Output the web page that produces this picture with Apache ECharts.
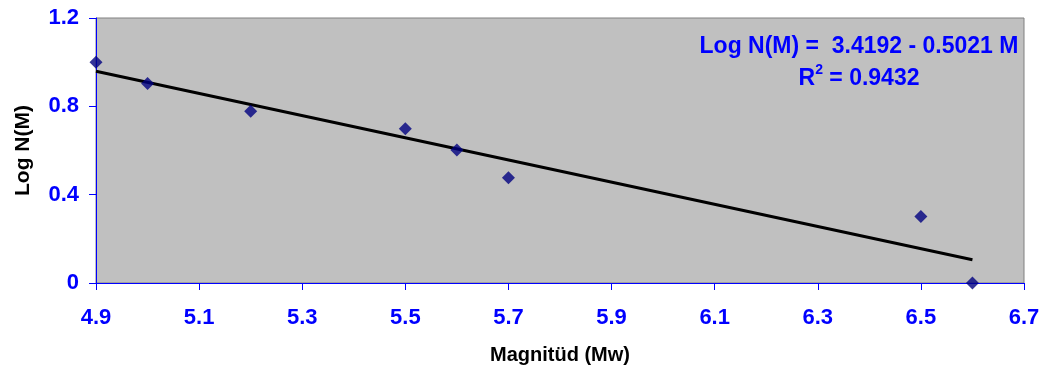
<!DOCTYPE html>
<html>
<head>
<meta charset="utf-8">
<script src="https://cdn.jsdelivr.net/npm/echarts@6/dist/echarts.min.js"></script>
<style>
html,body{margin:0;padding:0;background:#fff;}
#chart{width:1046px;height:376px;}
</style>
</head>
<body>
<div id="chart"></div>
<script>
// Observed data: magnitude (Mw) vs Log N(M)
const magnitudes = [4.9, 5.0, 5.2, 5.5, 5.6, 5.7, 6.5, 6.6];
const logN = [1.0, 0.903, 0.778, 0.699, 0.602, 0.477, 0.301, 0.0];
// Trend line endpoints as drawn
const trendX = [4.9, 6.6];
const trendY = [0.959, 0.105];
// Tick labels
const xTicks = [4.9, 5.1, 5.3, 5.5, 5.7, 5.9, 6.1, 6.3, 6.5, 6.7];
const yTicks = [0, 0.4, 0.8, 1.2];
const equationText = 'Log N(M) =  3.4192 - 0.5021 M';
const r2Value = '0.9432';

const FONT = '"Liberation Sans", Arial, sans-serif';
const BLUE = '#0000FF';

const chart = echarts.init(document.getElementById('chart'), null, {renderer: 'canvas'});
chart.setOption({
  animation: false,
  backgroundColor: '#ffffff',
  grid: {
    left: 96, right: 22, top: 18, bottom: 93,
    show: true, backgroundColor: '#C0C0C0', borderColor: '#808080', borderWidth: 1
  },
  title: {
    left: 854, top: 26, textAlign: 'center',
    text: '{a|' + equationText + '}\n{a|R}{s|2}{a| = ' + r2Value + '}',
    textStyle: {
      rich: {
        a: {fontFamily: FONT, fontWeight: 'bold', fontSize: 23, color: BLUE, lineHeight: 32},
        s: {fontFamily: FONT, fontWeight: 'bold', fontSize: 14, color: BLUE, verticalAlign: 'top', lineHeight: 32, padding: [0,0,6,0]}
      }
    }
  },
  xAxis: {
    type: 'value', min: 4.9, max: 6.7,
    name: 'Magnitüd (Mw)', nameLocation: 'middle', nameGap: 62,
    nameTextStyle: {fontFamily: FONT, fontWeight: 'bold', fontSize: 20, color: '#000'},
    axisLine: {show: true, onZero: false, lineStyle: {color: BLUE, width: 1}},
    axisTick: {show: true, inside: false, length: 7, customValues: xTicks, lineStyle: {color: BLUE}},
    axisLabel: {customValues: xTicks, margin: 24, fontFamily: FONT, fontWeight: 'bold', fontSize: 22, color: BLUE,
      formatter: v => v.toFixed(1)},
    splitLine: {show: false}
  },
  yAxis: {
    type: 'value', min: 0, max: 1.2,
    name: 'Log N(M)', nameLocation: 'middle', nameGap: 62, nameRotate: 90,
    nameTextStyle: {fontFamily: FONT, fontWeight: 'bold', fontSize: 21, color: '#000'},
    axisLine: {show: true, onZero: false, lineStyle: {color: BLUE, width: 1}},
    axisTick: {show: true, inside: false, length: 7, customValues: yTicks, lineStyle: {color: BLUE}},
    axisLabel: {customValues: yTicks, margin: 17, fontFamily: FONT, fontWeight: 'bold', fontSize: 22, color: BLUE,
      formatter: v => (v === 0 ? '0' : v.toFixed(1))},
    splitLine: {show: false}
  },
  series: [
    {
      type: 'line',
      data: trendX.map((x, i) => [x, trendY[i]]),
      showSymbol: false, symbol: 'none',
      lineStyle: {color: '#000000', width: 3},
      z: 2
    },
    {
      type: 'scatter',
      data: magnitudes.map((m, i) => [m, logN[i]]),
      symbol: 'diamond', symbolSize: [13, 13],
      itemStyle: {color: '#000080'},
      z: 3
    }
  ]
});
</script>
</body>
</html>
